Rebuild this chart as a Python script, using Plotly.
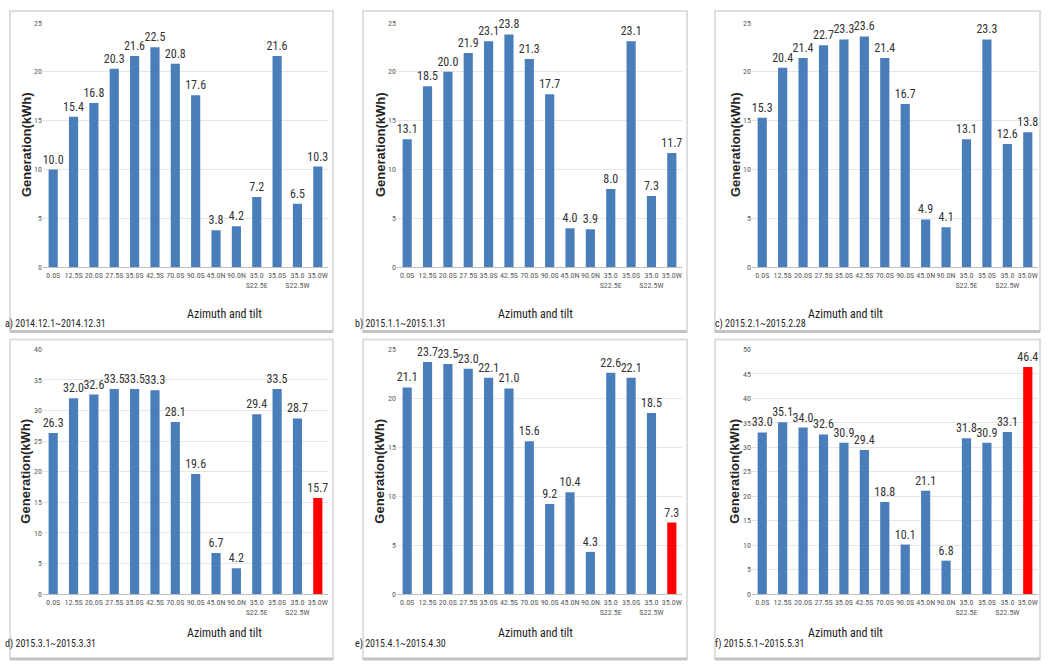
import plotly.graph_objects as go

categories = ["0.0S", "12.5S", "20.0S", "27.5S", "35.0S", "42.5S", "70.0S", "90.0S",
              "45.0N", "90.0N", "35.0<br>S22.5E", "35.0S", "35.0<br>S22.5W", "35.0W"]

gen_a = [10.0, 15.4, 16.8, 20.3, 21.6, 22.5, 20.8, 17.6, 3.8, 4.2, 7.2, 21.6, 6.5, 10.3]
gen_b = [13.1, 18.5, 20.0, 21.9, 23.1, 23.8, 21.3, 17.7, 4.0, 3.9, 8.0, 23.1, 7.3, 11.7]
gen_c = [15.3, 20.4, 21.4, 22.7, 23.3, 23.6, 21.4, 16.7, 4.9, 4.1, 13.1, 23.3, 12.6, 13.8]
gen_d = [26.3, 32.0, 32.6, 33.5, 33.5, 33.3, 28.1, 19.6, 6.7, 4.2, 29.4, 33.5, 28.7, 15.7]
gen_e = [21.1, 23.7, 23.5, 23.0, 22.1, 21.0, 15.6, 9.2, 10.4, 4.3, 22.6, 22.1, 18.5, 7.3]
gen_f = [33.0, 35.1, 34.0, 32.6, 30.9, 29.4, 18.8, 10.1, 21.1, 6.8, 31.8, 30.9, 33.1, 46.4]

captions = ["a) 2014.12.1~2014.12.31", "b) 2015.1.1~2015.1.31", "c) 2015.2.1~2015.2.28",
            "d) 2015.3.1~2015.3.31", "e) 2015.4.1~2015.4.30", "f) 2015.5.1~2015.5.31"]
y_max = [25, 25, 25, 40, 25, 50]
highlight_last = [False, False, False, True, True, True]

W, H = 1048, 670
BLUE = "#4a7ebb"
RED = "#ff0000"
NARROW = "Liberation Sans Narrow, Arial Narrow, Roboto Condensed, sans-serif"

series = [gen_a, gen_b, gen_c, gen_d, gen_e, gen_f]
positions = list(range(len(categories)))

# panel geometry in pixels (plot area)
x_px = [(43, 328), (397, 682), (752, 1038)]
y_px = [(19, 267), (350, 598)]
frame_x = [(10, 333), (363, 687), (715, 1040)]
frame_y = [(7, 332), (340, 664)]
caption_x = [3, 353, 713]
caption_y = [324, 657]
xtitle_cx = [185, 535, 885]
xtitle_y = [314, 647]

def fx(p):
    return p / W

def fy(p):
    return 1 - p / H

fig = go.Figure()
layout = dict(width=W, height=H, margin=dict(l=0, r=0, t=0, b=0),
              paper_bgcolor="white", plot_bgcolor="white", showlegend=False,
              bargap=0.55)
annotations = []
shapes = []

for i, vals in enumerate(series):
    r, c = divmod(i, 3)
    n = i + 1
    xa = "x" if n == 1 else f"x{n}"
    ya = "y" if n == 1 else f"y{n}"
    colors = [BLUE] * len(vals)
    if highlight_last[i]:
        colors[-1] = RED
    fig.add_trace(go.Bar(
        x=positions, y=vals, xaxis=xa, yaxis=ya,
        marker=dict(color=colors, line=dict(width=0)),
        text=[f"{v:.1f}" for v in vals], textposition="outside",
        textangle=0, constraintext="none",
        textfont=dict(family=NARROW, size=12, color="#333333"),
        cliponaxis=False, hoverinfo="y",
    ))
    xkey = "xaxis" if n == 1 else f"xaxis{n}"
    ykey = "yaxis" if n == 1 else f"yaxis{n}"
    layout[xkey] = dict(
        domain=[fx(x_px[c][0]), fx(x_px[c][1])], anchor=ya,
        range=[-0.5, len(categories) - 0.5],
        tickmode="array", tickvals=positions, ticktext=categories, tickangle=0,
        showgrid=False, zeroline=False, showline=True, linecolor="#bfbfbf",
        linewidth=1, ticks="", tickfont=dict(family=NARROW, size=8, color="#595959"),
        fixedrange=True,
    )
    layout[ykey] = dict(
        domain=[fy(y_px[r][1]), fy(y_px[r][0])], anchor=xa,
        range=[0, y_max[i]], dtick=5, showgrid=True, gridcolor="#e6e6e6",
        gridwidth=1, zeroline=False, showline=False, ticks="",
        tickfont=dict(family=NARROW, size=8, color="#595959"), fixedrange=True,
    )
    # frame
    shapes.append(dict(type="rect", xref="paper", yref="paper",
                       x0=fx(frame_x[c][0]), x1=fx(frame_x[c][1]),
                       y0=fy(frame_y[r][1]), y1=fy(frame_y[r][0]),
                       line=dict(color="#dedede", width=2), layer="below"))
    shapes.append(dict(type="line", xref="paper", yref="paper",
                       x0=fx(frame_x[c][0]), x1=fx(frame_x[c][1]),
                       y0=fy(frame_y[r][1]), y1=fy(frame_y[r][1]),
                       line=dict(color="#c4c4c4", width=3)))
    # y title
    annotations.append(dict(xref="paper", yref="paper",
                            x=fx(x_px[c][0] - 17), y=fy((y_px[r][0] + y_px[r][1]) / 2),
                            xanchor="center", yanchor="middle",
                            text="<b>Generation(kWh)</b>", textangle=-90, showarrow=False,
                            font=dict(family="Liberation Sans, Arial, sans-serif", size=13, color="#262626")))
    # x title
    annotations.append(dict(xref="paper", yref="paper",
                            x=fx(xtitle_cx[c]), y=fy(xtitle_y[r]),
                            text="Azimuth and tilt", showarrow=False,
                            font=dict(family=NARROW, size=12, color="#1a1a1a")))
    # caption
    annotations.append(dict(xref="paper", yref="paper", xanchor="left",
                            x=fx(caption_x[c]), y=fy(caption_y[r]),
                            text=captions[i], showarrow=False,
                            font=dict(family=NARROW, size=10, color="#262626")))

layout["annotations"] = annotations
layout["shapes"] = shapes
fig.update_layout(**layout)
fig.write_html("out.html", config={"displayModeBar": False},
               post_script="document.body.style.margin='0';document.body.style.overflow='hidden';")
